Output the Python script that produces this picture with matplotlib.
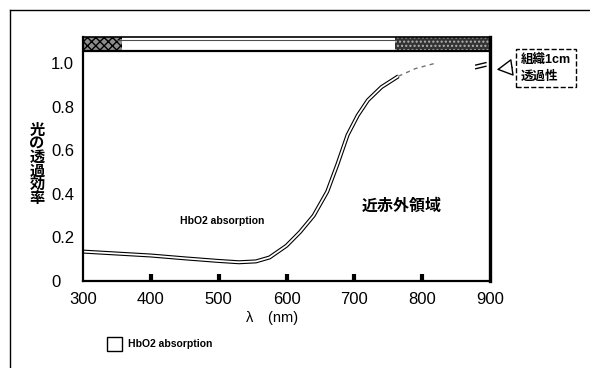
import numpy as np
import matplotlib
matplotlib.use('Agg')
import matplotlib.pyplot as plt
from matplotlib.patches import Rectangle, Patch
from matplotlib.lines import Line2D

plt.rcParams['font.family'] = ['Liberation Sans', 'Noto Sans CJK JP', 'DejaVu Sans']

# 波長(nm) と 光の透過効率
wl = [300, 350, 400, 450, 500, 530, 555, 575, 600, 620, 640, 660, 675, 690, 705, 720, 740, 765]
trans = [0.135, 0.126, 0.117, 0.104, 0.092, 0.086, 0.090, 0.108, 0.162, 0.225, 0.30, 0.41,
         0.535, 0.67, 0.76, 0.83, 0.89, 0.94]
# かすれた部分
wl_faint = [765, 790, 820]
trans_faint = [0.94, 0.975, 1.0]

xticks = [300, 400, 500, 600, 700, 800, 900]
yticks = [0, 0.2, 0.4, 0.6, 0.8, 1.0]
ytick_labels = ['0', '0.2', '0.4', '0.6', '0.8', '1.0']

W, H = 590, 368
fig = plt.figure(figsize=(W / 100, H / 100), dpi=100)
ax = fig.add_axes([83 / W, 1 - 281 / H, (490 - 83) / W, (281 - 37) / H])

# 二重線風の曲線
ax.plot(wl, trans, color='black', lw=2.9, solid_capstyle='butt')
ax.plot(wl, trans, color='white', lw=1.3, solid_capstyle='butt')
ax.plot(wl_faint, trans_faint, color='0.45', lw=1.0, ls=(0, (3, 3)))

ax.set_xlim(300, 900)
ax.set_ylim(0, 1.12)

# 上部の帯
ax.axhline(1.055, color='black', lw=1.6)
ax.add_patch(Rectangle((300, 1.055), 57, 0.065, facecolor='0.55', edgecolor='black',
                       hatch='xxxx', lw=0))
ax.add_patch(Rectangle((760, 1.055), 140, 0.065, facecolor='0.2', edgecolor='0.7',
                       hatch='....', lw=0))
ax.plot([350, 760], [1.105, 1.105], color='0.3', lw=0.8)

ax.set_xticks(xticks)
ax.set_xticklabels([str(t) for t in xticks])
ax.set_yticks(yticks)
ax.set_yticklabels(ytick_labels)
ax.tick_params(axis='x', direction='in', length=5, width=3, labelsize=12, pad=8)
ax.tick_params(axis='y', length=0, labelsize=12, pad=23)
for lab in ax.get_yticklabels():
    lab.set_horizontalalignment('left')
# 両端には目盛りの印なし
xt = ax.xaxis.get_major_ticks()
xt[0].tick1line.set_visible(False)
xt[-1].tick1line.set_visible(False)

for s in ['left', 'bottom']:
    ax.spines[s].set_linewidth(1.6)
ax.spines['right'].set_linewidth(2.4)
ax.spines['top'].set_linewidth(1.2)

# 右端の省略記号
ax.plot([0.965, 0.99], [0.885, 0.895], transform=ax.transAxes, color='black', lw=1.0, clip_on=False)
ax.plot([0.965, 0.99], [0.870, 0.880], transform=ax.transAxes, color='black', lw=1.0, clip_on=False)

ax.text(505, 0.275, 'HbO2 absorption', ha='center', va='center', fontsize=7.5, fontweight='bold')
ax.text(770, 0.345, '近赤外領域', ha='center', va='center', fontsize=11.5, fontweight='bold')

fig.text(37 / W, 1 - 165 / H, '\n'.join('光の透過効率'), ha='center', va='center',
         fontsize=11, fontweight='bold', linespacing=0.95)
fig.text(272 / W, 1 - 318 / H, 'λ　(nm)', ha='center', va='center', fontsize=10.5)

# 吹き出し
fig.text(521 / W, 1 - 68 / H, '組織1cm\n透過性', ha='left', va='center', fontsize=9,
         fontweight='bold', linespacing=1.5,
         bbox=dict(boxstyle='square,pad=0.4', facecolor='white', edgecolor='black',
                   lw=1.0, ls='--'))
ax.annotate('', xy=(494 / W, 1 - 70 / H), xycoords='figure fraction',
            xytext=(515 / W, 1 - 67 / H), textcoords='figure fraction',
            arrowprops=dict(arrowstyle='-|>,head_length=1.0,head_width=0.55',
                            facecolor='white', edgecolor='black', lw=1.0))

# 凡例
fig.legend(handles=[Patch(facecolor='white', edgecolor='black', label='HbO2 absorption')],
           loc='center left', bbox_to_anchor=(98 / W, 1 - 344 / H), frameon=False,
           handlelength=1.4, handleheight=1.6, handletextpad=0.6,
           prop={'size': 7.5, 'weight': 'bold'})

# スキャンの枠線
fig.add_artist(Line2D([10 / W, 1.0], [1 - 10 / H, 1 - 10 / H], color='black', lw=1.0))
fig.add_artist(Line2D([10 / W, 10 / W], [0, 1 - 10 / H], color='black', lw=1.0))

fig.savefig('out.png', dpi=100)
